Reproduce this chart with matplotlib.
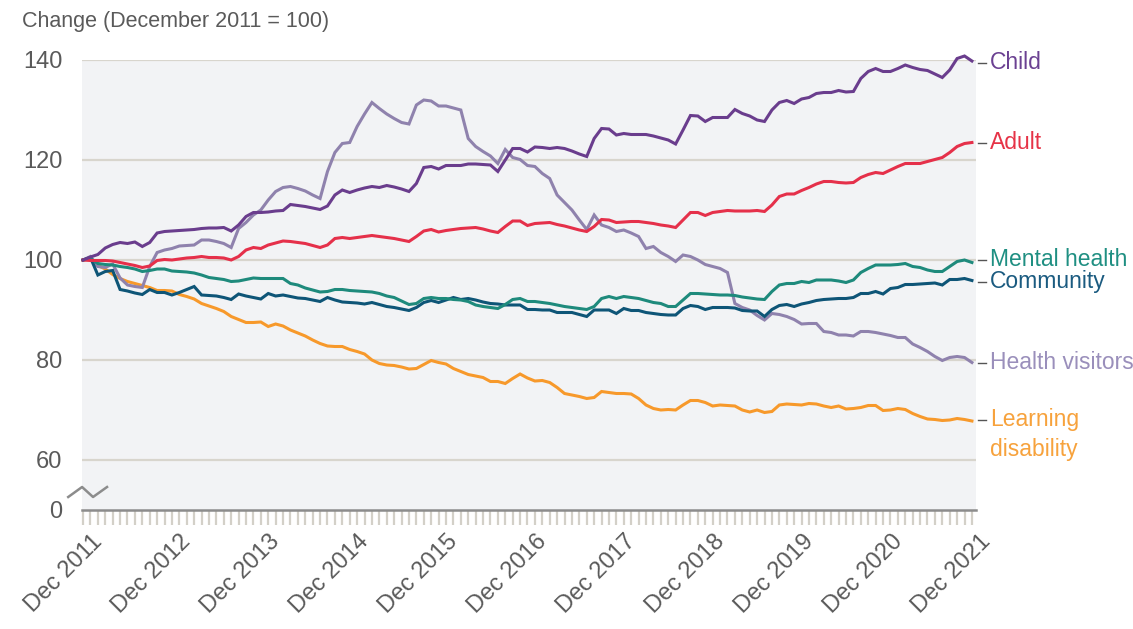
import numpy as np
import pandas as pd
import matplotlib
matplotlib.use("Agg")
import matplotlib.pyplot as plt

plt.rcParams['font.family'] = ['Liberation Sans', 'DejaVu Sans']

# monthly index values, Dec 2011 = 100
months = pd.date_range("2011-12-01", "2021-12-01", freq="MS")

child = [100, 100.6, 101.1, 102.4, 103.1, 103.5, 103.3, 103.6, 102.7, 103.5,
         105.4, 105.7, 105.8, 105.9, 106.0, 106.1, 106.3, 106.4, 106.4, 106.5,
         105.8, 107.0, 108.7, 109.5, 109.5, 109.6, 109.8, 109.9, 111.1, 110.9,
         110.7, 110.4, 110.1, 110.8, 113.0, 114.0, 113.5, 114.0, 114.4, 114.7,
         114.5, 114.9, 114.6, 114.2, 113.7, 115.3, 118.5, 118.7, 118.2, 118.9,
         118.9, 118.9, 119.2, 119.2, 119.1, 119.0, 117.7, 120.0, 122.3, 122.3,
         121.6, 122.6, 122.5, 122.3, 122.5, 122.3, 121.8, 121.2, 120.7, 124.3,
         126.3, 126.2, 125.0, 125.3, 125.1, 125.1, 125.1, 124.8, 124.4, 124.0,
         123.2, 126.0, 128.9, 128.8, 127.7, 128.5, 128.5, 128.5, 130.1, 129.3,
         128.8, 128.0, 127.7, 130.0, 131.5, 131.9, 131.3, 132.2, 132.5, 133.3,
         133.5, 133.5, 133.9, 133.6, 133.7, 136.3, 137.7, 138.3, 137.7, 137.7,
         138.3, 139.0, 138.5, 138.1, 137.9, 137.2, 136.5, 138.0, 140.3, 140.8,
         139.8]

adult = [100, 99.9, 99.9, 99.9, 99.8, 99.5, 99.2, 98.9, 98.5, 98.8,
         99.9, 100.1, 100.0, 100.2, 100.4, 100.5, 100.7, 100.5, 100.5, 100.4,
         100.0, 100.7, 102.0, 102.5, 102.3, 103.0, 103.4, 103.8, 103.7, 103.5,
         103.3, 102.9, 102.5, 103.0, 104.3, 104.5, 104.3, 104.5, 104.7, 104.9,
         104.7, 104.5, 104.3, 104.0, 103.7, 104.7, 105.8, 106.1, 105.6, 105.9,
         106.1, 106.3, 106.4, 106.5, 106.2, 105.8, 105.5, 106.7, 107.8, 107.8,
         106.9, 107.3, 107.4, 107.5, 107.1, 106.8, 106.4, 106.0, 105.7, 106.7,
         108.1, 108.0, 107.5, 107.6, 107.7, 107.7, 107.5, 107.3, 107.0, 106.8,
         106.5, 108.0, 109.5, 109.5, 108.9, 109.5, 109.7, 109.9, 109.8, 109.8,
         109.8, 109.9, 109.7, 111.0, 112.7, 113.2, 113.2, 113.9, 114.5, 115.2,
         115.7, 115.7, 115.5, 115.4, 115.5, 116.5, 117.1, 117.5, 117.3, 118.0,
         118.7, 119.3, 119.3, 119.3, 119.7, 120.1, 120.5, 121.5, 122.7, 123.3,
         123.5]

mental_health = [100, 100.3, 99.3, 99.1, 99.0, 98.7, 98.5, 98.2, 97.7, 97.9,
                 98.2, 98.2, 97.8, 97.7, 97.6, 97.4, 97.0, 96.5, 96.3, 96.1,
                 95.7, 95.8, 96.1, 96.4, 96.3, 96.3, 96.3, 96.3, 95.3, 95.0,
                 94.4, 94.0, 93.6, 93.7, 94.1, 94.1, 93.9, 93.8, 93.7, 93.6,
                 93.3, 92.8, 92.5, 91.8, 91.1, 91.3, 92.3, 92.5, 92.3, 92.3,
                 92.1, 92.0, 91.7, 91.0, 90.7, 90.5, 90.3, 91.1, 92.1, 92.3,
                 91.7, 91.7, 91.5, 91.3, 91.0, 90.7, 90.5, 90.3, 90.1, 90.7,
                 92.3, 92.7, 92.3, 92.7, 92.5, 92.3, 91.9, 91.5, 91.3, 90.7,
                 90.7, 92.0, 93.3, 93.3, 93.2, 93.1, 93.0, 93.0, 92.9, 92.6,
                 92.4, 92.2, 92.1, 93.7, 95.0, 95.3, 95.3, 95.7, 95.5, 96.0,
                 96.0, 96.0, 95.8, 95.5, 96.0, 97.5, 98.3, 99.0, 99.0, 99.0,
                 99.1, 99.3, 98.7, 98.5, 98.0, 97.7, 97.7, 98.7, 99.7, 100.0,
                 99.5]

community = [100, 100.5, 97.0, 97.7, 97.9, 94.1, 93.8, 93.4, 93.1, 94.1,
             93.5, 93.5, 93.0, 93.5, 94.1, 94.7, 93.0, 92.9, 92.8, 92.5,
             92.1, 93.2, 92.8, 92.5, 92.2, 93.3, 92.8, 93.0, 92.7, 92.4,
             92.3, 92.0, 91.7, 92.5, 92.0, 91.6, 91.5, 91.4, 91.2, 91.5,
             91.1, 90.7, 90.5, 90.2, 89.9, 90.5, 91.5, 91.9, 91.5, 92.0,
             92.5, 92.1, 92.3, 92.0, 91.6, 91.3, 91.2, 91.0, 91.0, 91.0,
             90.1, 90.1, 90.0, 90.0, 89.5, 89.5, 89.5, 89.1, 88.7, 90.0,
             90.0, 90.0, 89.3, 90.3, 89.9, 89.9, 89.5, 89.3, 89.1, 89.0,
             89.0, 90.3, 90.9, 90.7, 90.1, 90.5, 90.5, 90.5, 90.4, 89.9,
             89.8, 89.8, 88.7, 90.1, 90.9, 91.1, 90.7, 91.2, 91.5, 91.9,
             92.1, 92.2, 92.3, 92.3, 92.5, 93.3, 93.3, 93.7, 93.2, 94.3,
             94.5, 95.1, 95.1, 95.2, 95.3, 95.4, 95.0, 96.1, 96.1, 96.3,
             95.9]

health_visitors = [100, 100.7, 98.7, 98.5, 99.2, 96.4, 95.0, 94.7, 94.5, 98.7,
                   101.5, 102.0, 102.3, 102.8, 102.9, 103.0, 104.0, 104.0, 103.7, 103.3,
                   102.5, 106.3, 107.5, 109.0, 110.0, 112.0, 113.7, 114.5, 114.7, 114.3,
                   113.8, 113.0, 112.3, 117.7, 121.5, 123.3, 123.5, 126.7, 129.2, 131.5,
                   130.3, 129.2, 128.3, 127.5, 127.2, 131.0, 132.0, 131.8, 130.8, 130.8,
                   130.4, 130.0, 124.3, 122.7, 121.7, 120.8, 119.3, 122.1, 120.5, 120.1,
                   118.9, 118.7, 117.3, 116.3, 113.0, 111.5, 110.0, 108.0, 106.1, 109.0,
                   107.0, 106.5, 105.7, 106.0, 105.4, 104.7, 102.3, 102.7, 101.5, 100.7,
                   99.7, 101.0, 100.7, 100.0, 99.1, 98.7, 98.3, 97.5, 91.3, 90.5,
                   90.0, 88.9, 88.0, 89.3, 89.1, 88.7, 88.1, 87.2, 87.3, 87.3,
                   85.7, 85.5, 85.0, 85.0, 84.8, 85.7, 85.7, 85.5, 85.2, 84.9,
                   84.5, 84.5, 83.2, 82.5, 81.7, 80.7, 79.9, 80.5, 80.7, 80.5,
                   79.5]

learning_disability = [100, 100.2, 98.9, 98.2, 97.1, 96.3, 95.7, 95.3, 94.9, 94.5,
                       93.9, 93.9, 93.8, 93.1, 92.7, 92.2, 91.3, 90.8, 90.3, 89.7,
                       88.7, 88.1, 87.5, 87.5, 87.6, 86.7, 87.2, 86.8, 86.0, 85.4,
                       84.8, 84.0, 83.3, 82.8, 82.7, 82.7, 82.1, 81.7, 81.2, 80.0,
                       79.3, 79.0, 78.9, 78.6, 78.2, 78.3, 79.1, 79.9, 79.5, 79.2,
                       78.3, 77.7, 77.1, 76.8, 76.5, 75.7, 75.7, 75.3, 76.3, 77.2,
                       76.4, 75.8, 75.9, 75.5, 74.5, 73.3, 73.0, 72.7, 72.3, 72.5,
                       73.7, 73.5, 73.3, 73.3, 73.2, 72.3, 71.0, 70.3, 70.0, 70.1,
                       70.0, 71.0, 71.9, 71.9, 71.5, 70.8, 71.0, 70.9, 70.8, 70.0,
                       69.6, 70.0, 69.5, 69.7, 71.0, 71.2, 71.1, 71.0, 71.3, 71.2,
                       70.8, 70.5, 70.8, 70.2, 70.3, 70.5, 70.9, 70.9, 69.9, 70.0,
                       70.3, 70.1, 69.3, 68.7, 68.2, 68.1, 67.9, 68.0, 68.3, 68.1,
                       67.8]

series_names = ["Learning\ndisability", "Health visitors", "Community",
                "Mental health", "Adult", "Child"]
series_values = [learning_disability, health_visitors, community,
                 mental_health, adult, child]
line_colors = ["#f7992b", "#8f82ad", "#0e5577", "#1e8a7c", "#e5304a", "#6a3d8d"]
text_colors = ["#f7a23c", "#9a8fbb", "#1b5b80", "#1f8f82", "#e63347", "#6b4192"]
label_nudge = [0.3, 0.0, -0.2, 0.5, 0.0, -0.3]

ytick_vals = [50, 60, 80, 100, 120, 140]
ytick_text = ["0", "60", "80", "100", "120", "140"]

x = np.arange(len(months))

fig = plt.figure(figsize=(11.33, 6.29), dpi=100)
ax = fig.add_axes([82 / 1133, 1 - 510 / 629, 894 / 1133, 450 / 629])
ax.set_facecolor("#f2f3f5")

for v, c in zip(series_values, line_colors):
    ax.plot(x, v, color=c, lw=2.2, solid_joinstyle="miter", clip_on=False, zorder=3)

ax.set_xlim(-0.14, 120.55)
ax.set_ylim(50, 140)

for g in ytick_vals[1:]:
    ax.axhline(g, color="#d8d5cd", lw=1.6, zorder=1)

for s in ["top", "left", "right"]:
    ax.spines[s].set_visible(False)
ax.spines["bottom"].set_color("#8c8c8c")
ax.spines["bottom"].set_linewidth(1.8)
ax.spines["bottom"].set_zorder(4)

ax.set_yticks(ytick_vals)
ax.set_yticklabels(ytick_text)
ax.tick_params(axis="y", length=0, pad=14, labelsize=17, labelcolor="#5a5a5a")

xlabels = [m.strftime("Dec %Y") if m.month == 12 else "" for m in months]
ax.set_xticks(x)
ax.set_xticklabels(xlabels, rotation=45, ha="right", va="top", rotation_mode="anchor")
ax.tick_params(axis="x", length=11, width=1.6, color="#d3d0c8", pad=4,
               labelsize=17, labelcolor="#5a5a5a")
for lab in ax.get_xticklabels():
    lab.set_transform(lab.get_transform() + matplotlib.transforms.ScaledTranslation(8 / 100, 0, fig.dpi_scale_trans))

# break mark on the y axis
ax.plot([-2.0, -0.13, 1.35, 3.24], [52.6, 54.6, 52.6, 54.6], color="#8c8c8c",
        lw=1.8, clip_on=False, zorder=5)

# right-hand labels
for name, v, tc, dy in zip(series_names, series_values, text_colors, label_nudge):
    yl = v[-1] + dy
    ax.plot([120.8, 121.9], [yl, yl], color="#555555", lw=1.0, clip_on=False)
    for i, part in enumerate(name.split("\n")):
        ax.text(122.4, yl - 6.0 * i, part, color=tc, fontsize=16.5,
                va="center", ha="left")

fig.text(22 / 1133, 1 - 22 / 629, "Change (December 2011 = 100)", fontsize=15.5,
         color="#5a5a5a", va="center", ha="left")

fig.savefig("out.png", dpi=100)
